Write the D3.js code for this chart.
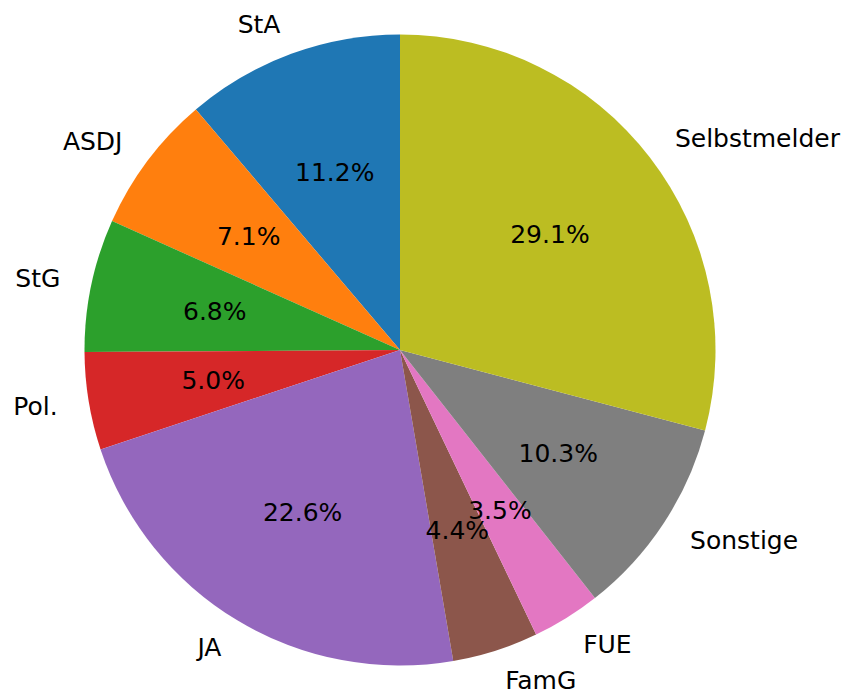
<!DOCTYPE html>
<html>
<head>
<meta charset="utf-8">
<script src="https://cdn.jsdelivr.net/npm/d3@7"></script>
<style>
  html, body { margin: 0; padding: 0; background: #fff; }
  svg text { font-family: "DejaVu Sans", sans-serif; }
</style>
</head>
<body>
<svg id="chart" width="849" height="692"></svg>
<script>
const categories = ["StA", "ASDJ", "StG", "Pol.", "JA", "FamG", "FUE", "Sonstige", "Selbstmelder"];
const values = [11.2, 7.1, 6.8, 5.0, 22.6, 4.4, 3.5, 10.3, 29.1];
const colors = ["#1f77b4", "#ff7f0e", "#2ca02c", "#d62728", "#9467bd", "#8c564b", "#e377c2", "#7f7f7f", "#bcbd22"];

const W = 849, H = 692;
const cx = 400, cy = 350, r = 315.5;
const fontSize = 25;

const svg = d3.select("#chart");
const g = svg.append("g").attr("transform", `translate(${cx},${cy})`);

// matplotlib: start at 90deg (top), counterclockwise.
// d3 angles: 0 at top, clockwise. Counterclockwise => negative direction.
const total = d3.sum(values);
const pie = d3.pie().sort(null).value(d => d)
  .startAngle(0).endAngle(-2 * Math.PI);
const arcs = pie(values);

const arc = d3.arc().innerRadius(0).outerRadius(r);

g.selectAll("path.slice")
  .data(arcs)
  .join("path")
  .attr("class", "slice")
  .attr("d", arc)
  .attr("fill", (d, i) => colors[i]);

function pos(a, rad) {
  // d3 angle: 0 at top, clockwise
  return [rad * Math.sin(a), -rad * Math.cos(a)];
}

// labels at 1.1 r
g.selectAll("text.label")
  .data(arcs)
  .join("text")
  .attr("class", "label")
  .each(function(d, i) {
    const mid = (d.startAngle + d.endAngle) / 2;
    const [x, y] = pos(mid, 1.1 * r);
    d3.select(this)
      .attr("x", x).attr("y", y)
      .attr("text-anchor", x > 0 ? "start" : "end")
      .attr("dominant-baseline", "central");
  })
  .attr("font-size", fontSize)
  .attr("fill", "#000")
  .text((d, i) => categories[i]);

// percentages at 0.6 r
g.selectAll("text.pct")
  .data(arcs)
  .join("text")
  .attr("class", "pct")
  .each(function(d, i) {
    const mid = (d.startAngle + d.endAngle) / 2;
    const [x, y] = pos(mid, 0.6 * r);
    d3.select(this)
      .attr("x", x).attr("y", y)
      .attr("text-anchor", "middle")
      .attr("dominant-baseline", "central");
  })
  .attr("font-size", fontSize)
  .attr("fill", "#000")
  .text((d, i) => d3.format(".1f")(values[i] / total * 100) + "%");
</script>
</body>
</html>
